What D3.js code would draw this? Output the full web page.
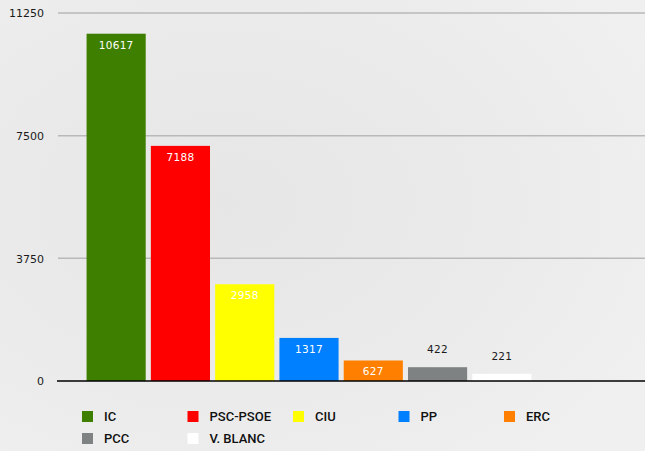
<!DOCTYPE html>
<html><head><meta charset="utf-8">
<script src="https://cdn.jsdelivr.net/npm/d3@7/dist/d3.min.js"></script>
<style>html,body{margin:0;padding:0;overflow:hidden;background:#ebebeb}</style>
</head><body><svg id="c" width="645" height="451"></svg>
<script>
const categories = ["IC","PSC-PSOE","CIU","PP","ERC","PCC","V. BLANC"];
const values = [10617,7188,2958,1317,627,422,221];
const colors = ["#3f7f00","#ff0000","#ffff00","#0080ff","#ff8000","#7f8282","#ffffff"];
const tickValues = [0,3750,7500,11250];

const svg = d3.select("#c");
const defs = svg.append("defs");
const g1 = defs.append("radialGradient").attr("id","bg1").attr("cx","0.35").attr("cy","0.45").attr("r","0.75");
g1.append("stop").attr("offset","0").attr("stop-color","#e6e6e6");
g1.append("stop").attr("offset","0.6").attr("stop-color","#ebebeb");
g1.append("stop").attr("offset","1").attr("stop-color","#f0f0f0");
svg.append("rect").attr("width",645).attr("height",451).attr("fill","url(#bg1)");

const y = d3.scaleLinear().domain([0,11250]).range([381,13]);
const x = d3.scaleBand().domain(categories).range([84,534]).paddingInner(0.08).paddingOuter(0.04);

// gridlines
svg.append("g").selectAll("line").data(tickValues.filter(t=>t>0)).join("line")
  .attr("x1",58).attr("x2",645).attr("y1",d=>y(d)).attr("y2",d=>y(d))
  .attr("stroke","#b9b9b9").attr("stroke-width",1.5);

// y axis labels
const yAxis = d3.axisLeft(y).tickValues(tickValues).tickSize(0).tickPadding(0).tickFormat(d3.format("d"));
const ya = svg.append("g").attr("transform","translate(44,0)").call(yAxis);
ya.select(".domain").remove();
ya.selectAll("text").attr("font-family","DejaVu Sans, sans-serif").attr("font-size",11).attr("fill","#1a1a1a").attr("dy","0.35em");

// bars
svg.append("g").selectAll("rect").data(values).join("rect")
  .attr("x",(d,i)=>x(categories[i])).attr("width",x.bandwidth())
  .attr("y",d=>y(d)).attr("height",d=>y(0)-y(d))
  .attr("fill",(d,i)=>colors[i]);

// value labels
svg.append("g").selectAll("text").data(values).join("text")
  .attr("x",(d,i)=>x(categories[i])+x.bandwidth()/2)
  .attr("y",d=> (y(0)-y(d) > 18) ? y(d)+15 : y(d)-14)
  .attr("text-anchor","middle")
  .attr("font-family","DejaVu Sans, sans-serif").attr("font-size",10.5).attr("letter-spacing","0.3px")
  .attr("fill",d=> (y(0)-y(d) > 18) ? "#ffffff" : "#1a1a1a")
  .text(d=>d);

// x axis line
svg.append("line").attr("x1",57).attr("x2",645).attr("y1",381).attr("y2",381)
  .attr("stroke","#000").attr("stroke-width",1.5);

// legend
const leg = svg.append("g").selectAll("g").data(categories).join("g")
  .attr("transform",(d,i)=>`translate(${82 + (i%5)*105.5},${411 + Math.floor(i/5)*22})`);
leg.append("rect").attr("width",11).attr("height",11).attr("fill",(d,i)=>colors[i]);
leg.append("text").attr("x",22).attr("y",10).text(d=>d)
  .attr("font-family","Roboto, sans-serif").attr("font-size",13).attr("font-weight",500).attr("fill","#111");
</script></body></html>
